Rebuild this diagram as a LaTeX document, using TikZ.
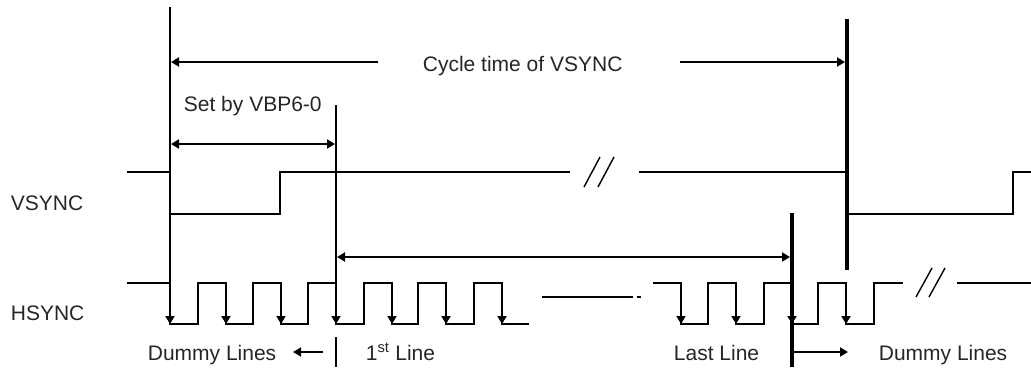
\documentclass[tikz,border=0pt]{standalone}
\usepackage{fontspec}
\setmainfont{Liberation Sans}
\usetikzlibrary{arrows.meta}
\begin{document}
\begin{tikzpicture}[x=1pt,y=-1pt, line width=1.8pt,
  tip/.style={-{Triangle[length=8pt,width=9pt]}},
  dtip/.style={{Triangle[length=8pt,width=9pt]}-{Triangle[length=8pt,width=9pt]}},
  lbl/.style={anchor=base west, inner sep=0pt, text=black!85, font=\fontsize{21}{25}\selectfont},
  wave/.style={line width=1.8pt, line join=miter},
  thickline/.style={line width=3.6pt}]
\useasboundingbox (0,0) rectangle (1031,370);
% key coordinates
\coordinate (a0) at (170,7);
\coordinate (a0b) at (170,324);
\coordinate (b0) at (336,105);
\coordinate (b0b) at (336,324);
\coordinate (c0) at (792,213);
\coordinate (c0b) at (792,367);
\coordinate (d0) at (847,19);
\coordinate (d0b) at (847,270);
% labels
\node[lbl] (cyc) at (422,71) {Cycle time of VSYNC};
\node[lbl] (vbp) at (183,111) {Set by VBP6-0};
\node[lbl] (vs) at (10,210) {VSYNC};
\node[lbl] (hs) at (10,320) {HSYNC};
\node[lbl] (d1) at (147,360) {Dummy Lines};
\node[lbl] (l1) at (365,360) {1\textsuperscript{st} Line};
\node[lbl] (ll) at (673,360) {Last Line};
\node[lbl] (d2) at (878,360) {Dummy Lines};
% VSYNC wave
\draw[wave] (127,172) -- (170,172) -- (170,214) -- (280,214) -- (280,172) -- (570,172);
\draw[wave] (639,172) -- (847,172) -- (847,214) -- (1013,214) -- (1013,172) -- (1031,172);
\draw[line width=1.4pt] (584,187) -- (600,157) (598,187) -- (614,157);
% HSYNC wave
\draw[wave] (127,283) -- (170,283) -- (170,324) -- (198,324) -- (198,283) -- (226,283) -- (226,324) -- (253,324) -- (253,283) -- (281,283) -- (281,324) -- (308,324) -- (308,283) -- (336,283) -- (336,324) -- (364,324) -- (364,283) -- (392,283) -- (392,324) -- (418,324) -- (418,283) -- (446,283) -- (446,324) -- (474,324) -- (474,283) -- (502,283) -- (502,324) -- (529,324);
\draw[wave] (542,297) -- (633,297) (637,297) -- (641,297);
\draw[wave] (653,283) -- (681,283) -- (681,324) -- (708,324) -- (708,283) -- (736,283) -- (736,324) -- (764,324) -- (764,283) -- (792,283) -- (792,324) -- (818,324) -- (818,283) -- (846,283) -- (846,324) -- (874,324) -- (874,283) -- (903,283);
\draw[line width=1.4pt] (916,297) -- (932,268) (929,297) -- (945,268);
\draw[wave] (957,283) -- (1031,283);
\foreach \x in {226,281,392,446,502,681,736,846}
  \draw[tip] (\x,283) -- (\x,324);
% vertical markers
\draw[tip] (a0) -- (a0b);
\draw[tip] (b0) -- (b0b);
\draw (336,337) -- (336,367);
\draw[thickline] (c0) -- (c0b);
\draw[tip] (792,283) -- (792,324);
\draw[thickline] (d0) -- (d0b);
% dimension arrows
\draw[tip] (378,62) -- (171,62);
\draw[tip] (680,62) -- (845,62);
\draw[dtip] (171,144) -- (335,144);
\draw[dtip] (337,257) -- (790,257);
\draw[tip] (323,352) -- (293,352);
\draw[tip] (794,352) -- (848,352);
\end{tikzpicture}
\end{document}
